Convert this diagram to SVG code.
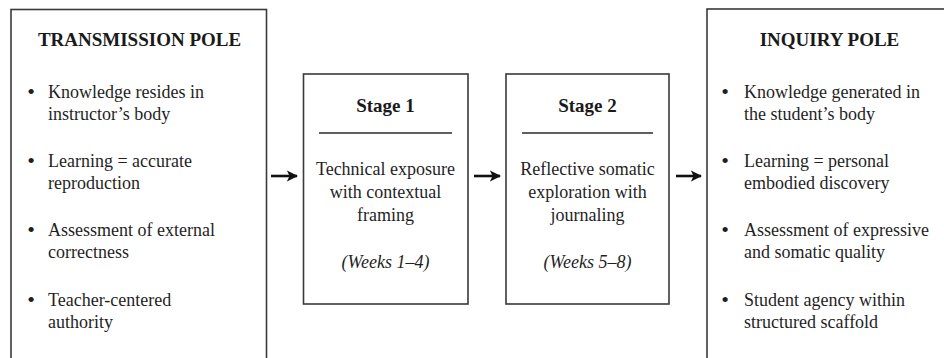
<svg xmlns="http://www.w3.org/2000/svg" width="944" height="358" viewBox="0 0 944 358">
  <style>
    .box { fill: #ffffff; stroke: #3a3a3a; stroke-width: 1.6; }
    .rule { stroke: #2a2a2a; stroke-width: 1.3; }
    .title { font-family: "Liberation Serif", "Times New Roman", serif; font-weight: bold; font-size: 19px; fill: #1a1a1a; text-anchor: middle; }
    .head { font-family: "Liberation Serif", "Times New Roman", serif; font-weight: bold; font-size: 19px; fill: #1a1a1a; text-anchor: middle; }
    .body { font-family: "Liberation Serif", "Times New Roman", serif; font-size: 18px; fill: #1f1f1f; }
    .dot { font-size: 22px; text-anchor: middle; }
    .mid { text-anchor: middle; }
    .weeks { font-style: italic; }
    .conn { stroke: #111111; stroke-width: 2.6; fill: none; }
  </style>
  <defs>
    <marker id="head" viewBox="0 0 10 10" refX="9" refY="5" markerWidth="4.4" markerHeight="5.6" markerUnits="strokeWidth" orient="auto">
      <path d="M0,0 L10,5 L0,10 L2.5,5 Z" fill="#111111"/>
    </marker>
  </defs>
  <rect width="944" height="358" fill="#ffffff"/>

  <!-- Left pole -->
  <g id="transmission-pole">
    <rect class="box" x="11" y="9.5" width="255.5" height="360"/>
    <text class="title" x="139.5" y="46">TRANSMISSION POLE</text>
    <g class="body">
      <text class="dot" x="31" y="99">•</text>
      <text x="48" y="98">Knowledge resides in</text>
      <text x="48" y="120">instructor’s body</text>
      <text class="dot" x="31" y="168">•</text>
      <text x="48" y="167">Learning = accurate</text>
      <text x="48" y="189">reproduction</text>
      <text class="dot" x="31" y="237">•</text>
      <text x="48" y="236">Assessment of external</text>
      <text x="48" y="258">correctness</text>
      <text class="dot" x="31" y="307">•</text>
      <text x="48" y="306">Teacher-centered</text>
      <text x="48" y="328">authority</text>
    </g>
  </g>

  <!-- Stage 1 -->
  <g id="stage-1">
    <rect class="box" x="303.5" y="74" width="164.5" height="230"/>
    <text class="head" x="385.5" y="112">Stage 1</text>
    <line class="rule" x1="319" y1="133" x2="452" y2="133"/>
    <g class="body mid">
      <text x="385.5" y="175">Technical exposure</text>
      <text x="385.5" y="198">with contextual</text>
      <text x="385.5" y="221">framing</text>
      <text class="weeks" x="385.5" y="268">(Weeks 1–4)</text>
    </g>
  </g>

  <!-- Stage 2 -->
  <g id="stage-2">
    <rect class="box" x="506" y="74" width="163" height="230"/>
    <text class="head" x="587.5" y="112">Stage 2</text>
    <line class="rule" x1="522" y1="133" x2="653" y2="133"/>
    <g class="body mid">
      <text x="587.5" y="175">Reflective somatic</text>
      <text x="587.5" y="198">exploration with</text>
      <text x="587.5" y="221">journaling</text>
      <text class="weeks" x="587.5" y="268">(Weeks 5–8)</text>
    </g>
  </g>

  <!-- Right pole -->
  <g id="inquiry-pole">
    <rect class="box" x="707" y="9" width="260" height="360"/>
    <text class="title" x="829.5" y="46">INQUIRY POLE</text>
    <g class="body">
      <text class="dot" x="725" y="99">•</text>
      <text x="744" y="98">Knowledge generated in</text>
      <text x="744" y="120">the student’s body</text>
      <text class="dot" x="725" y="168">•</text>
      <text x="744" y="167">Learning = personal</text>
      <text x="744" y="189">embodied discovery</text>
      <text class="dot" x="725" y="237">•</text>
      <text x="744" y="236">Assessment of expressive</text>
      <text x="744" y="258">and somatic quality</text>
      <text class="dot" x="725" y="307">•</text>
      <text x="744" y="306">Student agency within</text>
      <text x="744" y="328">structured scaffold</text>
    </g>
  </g>

  <!-- Connectors -->
  <g id="connectors">
    <line class="conn" x1="271" y1="176" x2="297" y2="176" marker-end="url(#head)"/>
    <line class="conn" x1="474" y1="176" x2="500" y2="176" marker-end="url(#head)"/>
    <line class="conn" x1="676" y1="176" x2="701" y2="176" marker-end="url(#head)"/>
  </g>
</svg>
